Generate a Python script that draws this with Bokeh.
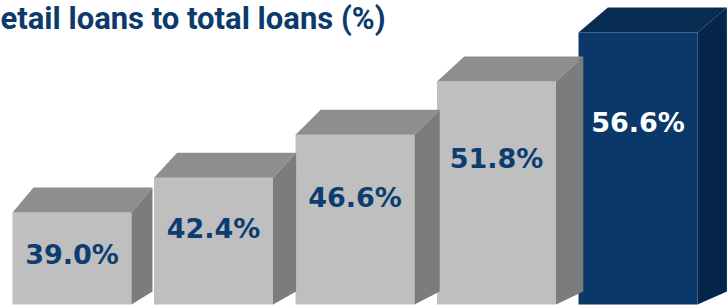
from bokeh.plotting import figure
from bokeh.models import Range1d, Label, ColumnDataSource
from bokeh.core.properties import value
from bokeh.embed import file_html
from bokeh.resources import INLINE

# ---- data ----
title_text = "etail loans to total loans (%)"
values = [39.0, 42.4, 46.6, 51.8, 56.6]
labels = ["39.0%", "42.4%", "46.6%", "51.8%", "56.6%"]
highlight = [False, False, False, False, True]

# ---- geometry / style ----
BASE = 30.0            # value at the bars' floor
PX_PER_X = 141.5       # pixels per category step
PX_PER_Y = 10.227      # pixels per percentage point
W, H = 727, 308
x0 = -71.5 / PX_PER_X
y0 = BASE - 4 / PX_PER_Y
bar_w = 119 / PX_PER_X
dy = 25 / PX_PER_Y
dyb = 13 / PX_PER_Y

grey = dict(front="#bfbfbf", top="#8e8e8e", side="#7c7c7c", text="#0c3d70")
navy = dict(front="#0a3868", top="#072c52", side="#05264a", text="#ffffff")

p = figure(width=W, height=H, output_backend="svg", toolbar_location=None,
           x_range=Range1d(x0, x0 + W / PX_PER_X),
           y_range=Range1d(y0, y0 + H / PX_PER_Y),
           min_border=0, outline_line_color=None, background_fill_color="white",
           border_fill_color="white")
p.xaxis.visible = False
p.yaxis.visible = False
p.grid.visible = False

xs = list(range(len(values)))
pal = [navy if h else grey for h in highlight]

# front faces
p.quad(left=[x - bar_w / 2 for x in xs], right=[x + bar_w / 2 for x in xs],
       bottom=BASE, top=values, fill_color=[c["front"] for c in pal], line_color=None)

# top and side faces (depth grows slightly to the right: perspective)
top_xs, top_ys, side_xs, side_ys = [], [], [], []
for x, v in zip(xs, values):
    dx = (21 + 2.1 * x) / PX_PER_X
    l, r = x - bar_w / 2, x + bar_w / 2
    top_xs.append([l, l + dx, r + dx, r])
    top_ys.append([v, v + dy, v + dy, v])
    side_xs.append([r, r + dx, r + dx, r])
    side_ys.append([v, v + dy, BASE + dyb, BASE])
p.patches(top_xs, top_ys, fill_color=[c["top"] for c in pal], line_color=None)
p.patches(side_xs, side_ys, fill_color=[c["side"] for c in pal], line_color=None)

# value labels
label_y = [BASE + 0.733 * (v - BASE) - 1.7 for v in values]
src = ColumnDataSource(dict(x=xs, y=label_y, t=labels, c=[c["text"] for c in pal]))
p.text(x="x", y="y", text="t", source=src, text_color="c",
       text_align="center", text_baseline="middle",
       text_font=value("DejaVu Sans"), text_font_style="bold", text_font_size="27px")

# title
title_y = BASE + (304 - 18) / PX_PER_Y
p.add_layout(Label(x=x0, y=title_y, text=title_text, text_color="#0c3a6a",
                   text_font="Roboto", text_font_style="bold",
                   text_font_size="31px", text_align="left", text_baseline="alphabetic"))

open("out.html", "w").write(file_html(p, INLINE))
